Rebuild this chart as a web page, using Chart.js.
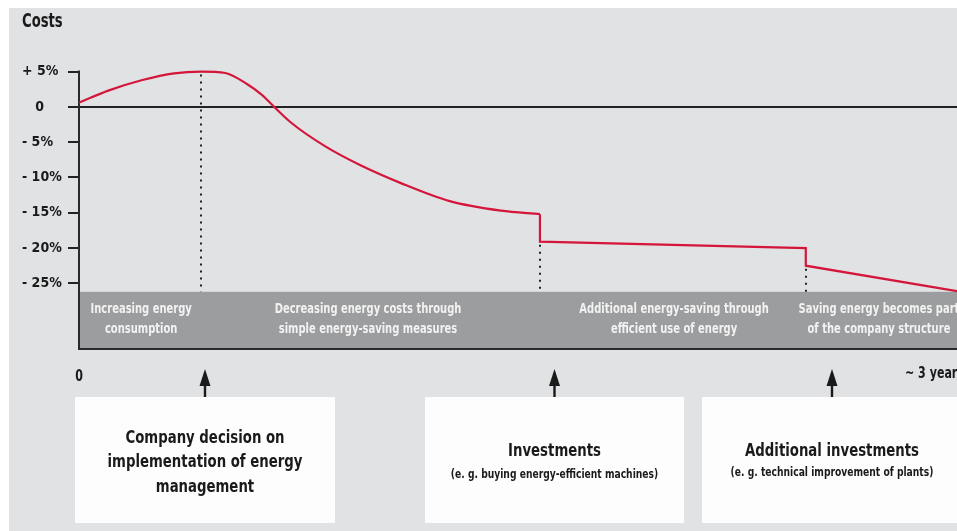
<!DOCTYPE html>
<html>
<head>
<meta charset="utf-8">
<style>
  body { margin: 0; background: #ffffff; }
  canvas { display: block; }
</style>
<script src="https://cdn.jsdelivr.net/npm/chart.js@4.4.1/dist/chart.umd.min.js"></script>
</head>
<body>
<canvas id="myChart" width="957" height="531"></canvas>
<script>
// time in months (0 .. ~3 years), costs in % change
const curveMonths = [0, 1.2, 2.6, 3.9, 5.0, 6.0, 6.9, 7.5, 8.0, 8.7, 10.1, 11.5, 13.2, 15.2, 17.3, 18.9];
const curveCosts = [0.6, 2.3, 3.8, 4.75, 5.0, 4.8, 3.2, 1.7, 0, -2.25, -5.6, -8.2, -10.8, -13.35, -14.7, -15.2];
const stepMonths = [18.9, 18.9, 29.8, 29.8, 36];
const stepCosts = [-15.2, -19.1, -20.0, -22.5, -26.1];

const yTicks = [5, 0, -5, -10, -15, -20, -25];
const yTickLabels = ['+ 5%', '   0', '- 5%', '- 10%', '- 15%', '- 20%', '- 25%'];

const milestoneMonths = [5.0, 18.9, 29.8];
const milestoneCosts = [5.0, -19.1, -22.5];
const bandTop = -26.2;

const phaseCenters = [2.55, 11.85, 24.4, 32.8];
const phaseLabels = [
    ['Increasing energy', 'consumption'],
    ['Decreasing energy costs through', 'simple energy-saving measures'],
    ['Additional energy-saving through', 'efficient use of energy'],
    ['Saving energy becomes part', 'of the company structure']
];

const eventTitles = [
    ['Company decision on', 'implementation of energy', 'management'],
    ['Investments'],
    ['Additional investments']
];
const eventNotes = ['', '(e. g. buying energy-efficient machines)', '(e. g. technical improvement of plants)'];

const FONT = "'Liberation Sans Narrow', 'DejaVu Sans Condensed', sans-serif";
const RED = '#d4163a';

const toPoints = (xs, ys) => xs.map((x, i) => ({ x: x, y: ys[i] }));

// the original uses a narrow DIN-like face, so squeeze the text a bit
function narrowText(c, text, x, y, sx) {
    c.save();
    c.translate(x, y);
    c.scale(sx, 1);
    c.fillText(text, 0, 0);
    c.restore();
}

const decorPlugin = {
    id: 'decor',
    beforeDraw(chart) {
        const c = chart.ctx;
        c.save();
        c.fillStyle = '#e1e2e4';
        c.fillRect(9, 8, chart.width - 9, chart.height - 8);
        c.fillStyle = '#1a1a1a';
        c.font = 'bold 19px ' + FONT;
        c.textAlign = 'left';
        c.textBaseline = 'middle';
        narrowText(c, 'Costs', 22, 22, 0.77);
        c.restore();
    },
    beforeDatasetsDraw(chart) {
        const c = chart.ctx;
        const area = chart.chartArea;
        const xs = chart.scales.x;
        const ys = chart.scales.y;
        const yBand = ys.getPixelForValue(bandTop);
        c.save();
        // grey phase band
        c.fillStyle = '#9c9d9f';
        c.fillRect(area.left, yBand, area.right - area.left, area.bottom - yBand);
        c.strokeStyle = '#2a2a2a';
        c.lineWidth = 2;
        c.beginPath();
        c.moveTo(area.left, area.bottom);
        c.lineTo(area.right, area.bottom);
        c.moveTo(area.left, ys.getPixelForValue(5) - 1);
        c.lineTo(area.left, area.bottom + 1);
        c.stroke();

        // dotted drop lines
        c.strokeStyle = '#222';
        c.lineWidth = 2;
        c.setLineDash([2, 5]);
        milestoneMonths.forEach((m, i) => {
            const px = Math.round(xs.getPixelForValue(m));
            c.beginPath();
            c.moveTo(px, ys.getPixelForValue(milestoneCosts[i]) + 3);
            c.lineTo(px, yBand);
            c.stroke();
        });
        c.setLineDash([]);

        // phase texts
        c.fillStyle = '#f2f2f2';
        c.font = 'bold 13.5px ' + FONT;
        c.textAlign = 'center';
        c.textBaseline = 'middle';
        phaseLabels.forEach((lines, i) => {
            const px = xs.getPixelForValue(phaseCenters[i]);
            lines.forEach((t, j) => narrowText(c, t, px, 309 + j * 20, 0.82));
        });
        c.restore();
    },
    afterDraw(chart) {
        const c = chart.ctx;
        const xs = chart.scales.x;
        c.save();
        c.fillStyle = '#1a1a1a';
        c.textBaseline = 'middle';
        c.font = 'bold 15px ' + FONT;
        c.textAlign = 'center';
        narrowText(c, '0', xs.getPixelForValue(0), 377, 0.82);
        c.textAlign = 'left';
        narrowText(c, '~ 3 years', 905, 374, 0.82);

        // event boxes with arrows
        const boxL = [75, 425, 702];
        const boxR = [335, 684, 962];
        eventTitles.forEach((lines, i) => {
            const cx = (boxL[i] + boxR[i]) / 2;
            c.fillStyle = '#fdfdfd';
            c.fillRect(boxL[i], 397, boxR[i] - boxL[i], 126);
            c.fillStyle = '#1a1a1a';
            c.fillRect(cx - 1.2, 384, 2.4, 13);
            c.beginPath();
            c.moveTo(cx, 369);
            c.lineTo(cx - 5.5, 386);
            c.lineTo(cx + 5.5, 386);
            c.closePath();
            c.fill();
            c.textAlign = 'center';
            c.font = 'bold 18px ' + FONT;
            const startY = lines.length > 1 ? 438 : 451;
            lines.forEach((t, j) => narrowText(c, t, cx, startY + j * 24.5, 0.82));
            if (eventNotes[i]) {
                c.font = 'bold 12px ' + FONT;
                narrowText(c, eventNotes[i], cx, i === 1 ? 475 : 473, 0.85);
            }
        });
        c.restore();
    }
};

const chart = new Chart(document.getElementById('myChart').getContext('2d'), {
    type: 'line',
    data: {
        datasets: [{
            data: toPoints(curveMonths, curveCosts),
            borderColor: RED,
            borderWidth: 2.2,
            pointRadius: 0,
            cubicInterpolationMode: 'monotone',
            fill: false
        }, {
            data: toPoints(stepMonths, stepCosts),
            borderColor: RED,
            borderWidth: 2.2,
            pointRadius: 0,
            tension: 0,
            fill: false
        }]
    },
    options: {
        responsive: false,
        animation: false,
        events: [],
        layout: {
            padding: { left: 22, top: 50.4, right: 0, bottom: 182 }
        },
        plugins: {
            legend: { display: false },
            tooltip: { enabled: false }
        },
        scales: {
            x: {
                type: 'linear',
                min: 0,
                max: 36,
                display: false
            },
            y: {
                min: -34.3,
                max: 8,
                afterBuildTicks: (scale) => {
                    scale.ticks = yTicks.map(v => ({ value: v }));
                },
                afterFit: (scale) => {
                    scale.width = 57;
                },
                border: { display: false },
                grid: {
                    drawOnChartArea: true,
                    lineWidth: 2,
                    tickLength: 11,
                    tickColor: '#222',
                    color: (ctx) => (ctx.tick && ctx.tick.value === 0 ? '#222' : 'transparent')
                },
                ticks: {
                    crossAlign: 'far',
                    color: '#1a1a1a',
                    font: { family: FONT, size: 14, weight: 'bold' },
                    callback: (value) => yTickLabels[yTicks.indexOf(value)]
                }
            }
        }
    },
    plugins: [decorPlugin]
});
</script>
</body>
</html>
